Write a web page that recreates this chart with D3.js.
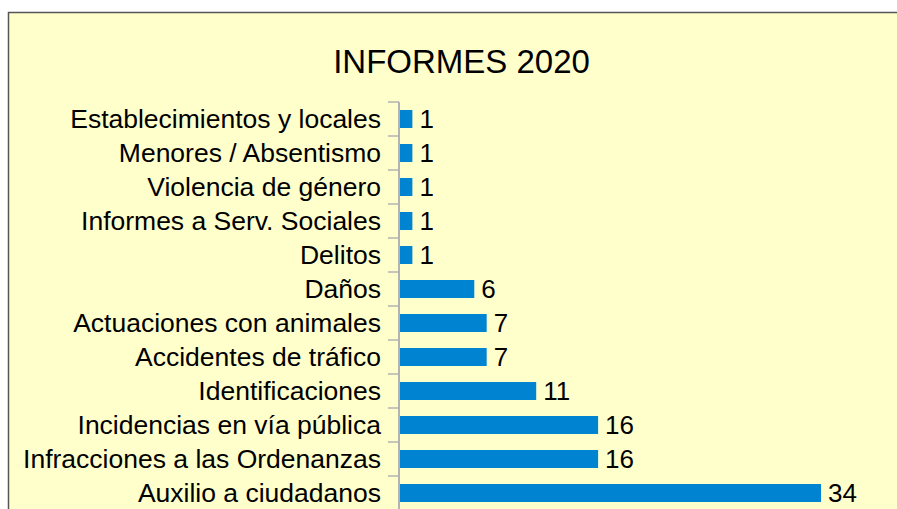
<!DOCTYPE html>
<html>
<head>
<meta charset="utf-8">
<script src="https://cdnjs.cloudflare.com/ajax/libs/d3/7.8.5/d3.min.js"></script>
<style>
  body { margin: 0; background: #fff; overflow: hidden; }
  svg { display: block; font-family: "Liberation Sans", Arial, sans-serif; }
</style>
</head>
<body>
<div id="chart"></div>
<script>
// Data, top to bottom
const categories = [
    "Establecimientos y locales",
    "Menores / Absentismo",
    "Violencia de género",
    "Informes a Serv. Sociales",
    "Delitos",
    "Daños",
    "Actuaciones con animales",
    "Accidentes de tráfico",
    "Identificaciones",
    "Incidencias en vía pública",
    "Infracciones a las Ordenanzas",
    "Auxilio a ciudadanos"
];
const values = [1, 1, 1, 1, 1, 6, 7, 7, 11, 16, 16, 34];
const title = "INFORMES 2020";

const width = 897, height = 509;

let svg = d3.select("#chart")
    .append("svg")
    .attr("width", width)
    .attr("height", height);

// chart area frame (runs off the right and bottom edge)
svg.append("rect")
    .attr("x", 8.5)
    .attr("y", 12.5)
    .attr("width", 1000)
    .attr("height", 1000)
    .attr("fill", "#ffffcc")
    .attr("stroke", "#555555")
    .attr("stroke-width", 1.5);

let data = categories.map(function(c, i) { return {cat: c, val: values[i]} });

let x = d3.scaleLinear()
    .domain([0, 34])
    .range([400, 821]);

let y = d3.scaleBand()
    .domain(categories)
    .range([102, 510])
    .paddingInner(0.47)
    .paddingOuter(0.235);

// axis line + ticks on band boundaries
let axis = svg.append("g");
axis.append("line")
    .attr("x1", 399).attr("x2", 399)
    .attr("y1", y.range()[0]).attr("y2", y.range()[1])
    .attr("stroke", "#b3b3b3")
    .attr("stroke-width", 2);

let bounds = d3.range(categories.length + 1).map(function(i) { return y.range()[0] + i * y.step() });
axis.selectAll(".tick")
    .data(bounds)
    .enter()
    .append("line")
    .attr("x1", 388).attr("x2", 399)
    .attr("y1", function(d) { return d }).attr("y2", function(d) { return d })
    .attr("stroke", "#b3b3b3")
    .attr("stroke-width", 1.5);

svg.selectAll(".bar")
    .data(data)
    .enter()
    .append("rect")
    .attr("fill", "#0084d1")
    .attr("x", x(0))
    .attr("y", function(d) { return y(d.cat) })
    .attr("width", function(d) { return x(d.val) - x(0) })
    .attr("height", y.bandwidth());

svg.selectAll(".cat")
    .data(data)
    .enter()
    .append("text")
    .attr("x", 381)
    .attr("y", function(d) { return y(d.cat) + y.bandwidth() / 2 })
    .attr("dy", "0.35em")
    .style("text-anchor", "end")
    .style("font-size", "26.5px")
    .style("fill", "#000")
    .text(function(d) { return d.cat });

svg.selectAll(".val")
    .data(data)
    .enter()
    .append("text")
    .attr("x", function(d) { return x(d.val) + 7 })
    .attr("y", function(d) { return y(d.cat) + y.bandwidth() / 2 })
    .attr("dy", "0.35em")
    .style("text-anchor", "start")
    .style("font-size", "26px")
    .style("fill", "#000")
    .text(function(d) { return d.val });

svg.append("text")
    .attr("x", 461.5)
    .attr("y", 73)
    .style("text-anchor", "middle")
    .style("font-size", "33px")
    .style("fill", "#000")
    .text(title);
</script>
</body>
</html>
